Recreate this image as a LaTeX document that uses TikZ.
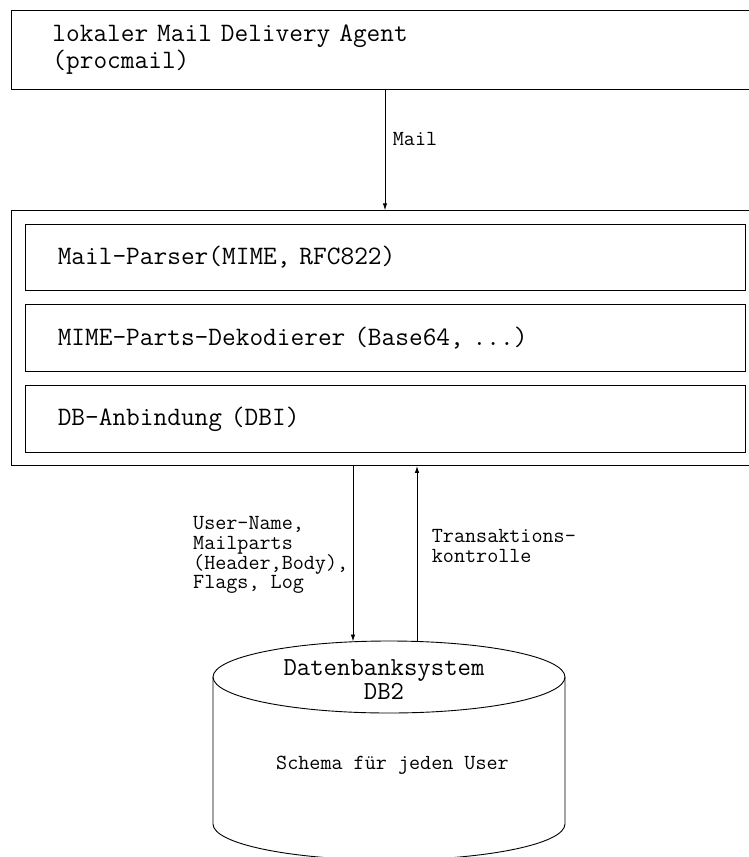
\documentclass[tikz,border=0pt]{standalone}
\usetikzlibrary{arrows.meta}
\newcommand\tightlines{\lineskiplimit=-50pt\relax\lineskip=0pt\relax}
\begin{document}
\begin{tikzpicture}[x=1pt,y=-1pt,
  box/.style={draw, line width=0.9pt, rectangle, inner ysep=0pt, anchor=north west, align=left},
  big/.style={font=\fontsize{26.6}{27}\selectfont\ttfamily\tightlines},
  dbfont/.style={font=\fontsize{26}{24.5}\selectfont\ttfamily\tightlines},
  small/.style={font=\fontsize{21.5}{19.6}\selectfont\ttfamily\tightlines},
  arr/.style={-{Latex[length=7pt,width=4.5pt]}, line width=0.9pt},
  cyl/.style={line width=0.9pt}]
\useasboundingbox (0,0) rectangle (748,857);
% top box
\node[box, big, minimum height=79.6pt, inner xsep=41.3pt, text width=676.7pt] (mda) at (10.7,9.7)
  {lokaler Mail Delivery Agent\\(procmail)};
% outer processing box
\node[box, minimum width=759.3pt, minimum height=254.7pt, inner sep=0pt] (proc) at (10.7,210.3) {};
% inner boxes
\node[box, big, minimum height=66pt, inner xsep=32pt, text width=655.7pt] (parser) at (25.3,224)
  {Mail-Parser(MIME, RFC822)};
\node[box, big, minimum height=67pt, inner xsep=32pt, text width=655.7pt] (decoder) at (25.3,304)
  {MIME-Parts-Dekodierer (Base64, ...)};
\node[box, big, minimum height=67pt, inner xsep=32pt, text width=655.7pt] (dbi) at (25.3,385)
  {DB-Anbindung (DBI)};
% cylinder
\draw[cyl] (389,677) ellipse [x radius=176pt, y radius=36pt];
\draw[cyl] (213,677) -- (213,824) arc[start angle=180, end angle=360, x radius=176pt, y radius=36pt] -- (565,677);
\node[dbfont, align=center, inner sep=0pt] (dbname) at (384,679.5) {Datenbanksystem\\DB2};
\node[small, anchor=base, inner sep=0pt] (schema) at (392.5,769.5) {Schema für jeden User};
% coordinates for connectors
\coordinate (mx) at (385,0);
\coordinate (dbin) at (353,641.5);
\coordinate (dbout) at (417,641.5);
% connectors
\draw[arr] (mda.south -| mx) -- (proc.north -| mx);
\draw[arr] (proc.south -| dbin) -- (dbin);
\draw[arr] (dbout) -- (proc.south -| dbout);
% labels
\node[small, anchor=base west, inner sep=0pt] (maillab) at (392.7,145.5) {Mail};
\node[small, anchor=north west, align=left, inner sep=0pt] (payload) at (193,516.5)
  {User-Name,\\Mailparts\\(Header,Body),\\Flags, Log};
\node[small, anchor=north west, align=left, inner sep=0pt] (txlab) at (431.7,529.4)
  {Transaktions-\\kontrolle};
\end{tikzpicture}
\end{document}
